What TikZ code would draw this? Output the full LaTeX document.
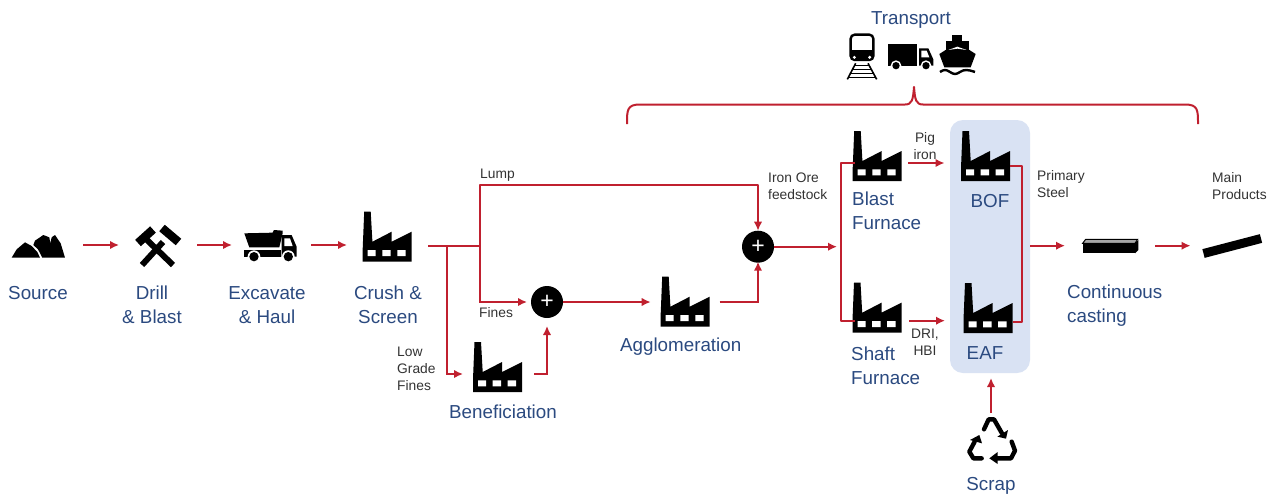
\documentclass[tikz,border=0pt]{standalone}
\usepackage{fontspec}
\setmainfont{Liberation Sans}
\usetikzlibrary{arrows.meta,calc}
\definecolor{lblue}{HTML}{2B4A80}
\definecolor{lred}{HTML}{C0202F}
\definecolor{lgrey}{HTML}{333333}
\definecolor{lbox}{HTML}{D9E2F3}
\tikzset{
  iconbox/.style={inner sep=0pt,outer sep=0pt,minimum height=1pt},
  lab/.style={text=lblue,font=\fontsize{18.8}{24}\selectfont,inner sep=0pt,align=center},
  lableft/.style={lab,align=left,anchor=west},
  small/.style={text=lgrey,font=\fontsize{13.8}{17}\selectfont,inner sep=0pt,align=left,anchor=west},
  smallc/.style={small,align=center,anchor=center},
  arr/.style={draw=lred,line width=2pt,-{Latex[length=9pt,width=8.5pt]}},
  wire/.style={draw=lred,line width=2pt},
  plusnode/.style={circle,fill=black,minimum size=32pt,inner sep=0pt,outer sep=0pt,text=white,font=\fontsize{23}{23}\selectfont},
  factory/.pic={
    \fill[black] (0,51) -- (0,38) -- (1.5,1) -- (8,1) -- (9.7,31) -- (29,21) -- (29,31) -- (49,21) -- (49,51) -- cycle;
    \fill[white] (5,39.3) rectangle (13,45.3) (19.7,39.3) rectangle (28,45.3) (34.7,39.3) rectangle (43,45.3);
  },
  zoomed/.style 2 args={shift={(#1,#2)},x=0.3333pt,y=-0.3333pt}
}
\newcommand{\factoryicon}[4]{% name, left, top, connector level
  \pic at (#2,#3) {factory};
  \node[iconbox,minimum width=49pt] (#1) at ({#2+24.5},#4) {};
}
\begin{document}
\begin{tikzpicture}[x=1pt,y=-1pt]
\useasboundingbox (0,0) rectangle (1273,496);
\fill[white] (0,0) rectangle (1273,496);
% highlighted steelmaking box
\node[fill=lbox,rounded corners=13pt,minimum width=80pt,minimum height=253pt,inner sep=0pt,outer sep=0pt] (steelbox) at (990,246.5) {};

% mountains
\begin{scope}[zoomed={0}{190}]
  \fill (35,203) -- (50,178) -- (75,157) -- (95,168) -- (112,186) -- (120,203) -- cycle;
  \fill (105,152) -- (130,135) -- (148,142) -- (151,160) -- (155,142) -- (165,135) -- (182,160) -- (195,203) -- (127,203) -- (114,178) -- (100,165) -- cycle;
\end{scope}
\node[iconbox,minimum width=53pt] (source) at (38.5,245) {};
% crossed hammers
\begin{scope}[line cap=butt]
  \draw[line width=6pt] (173,265) -- (147,240);
  \draw[line width=6pt] (142,265) -- (163,242);
  \draw[line width=8.5pt] (138,243) -- (153,229.5);
  \draw[line width=8.5pt] (162,228) -- (178.5,242);
\end{scope}
\node[iconbox,minimum width=44pt] (drill) at (158,245) {};
% dump truck
\begin{scope}[zoomed={0}{190}]
  \fill (733,130) -- (818,128) -- (822,120) -- (848,122) -- (848,130) -- (838,172) -- (748,172) -- cycle;
  \fill (733,180) -- (842,180) -- (842,202) -- (733,202) -- cycle;
  \fill (845,135) -- (875,135) -- (890,170) -- (890,200) -- (845,200) -- cycle;
  \fill[white] (853,145) -- (870,145) -- (878,168) -- (853,168) -- cycle;
  \fill[white] (762,200) circle (19) (865,200) circle (19);
  \fill (762,200) circle (14) (865,200) circle (14);
\end{scope}
\node[iconbox,minimum width=53pt] (truck) at (270.5,245) {};

\factoryicon{crush}{362.7}{210.7}{245.7}
\factoryicon{benef}{473}{341}{374}
\factoryicon{agglo}{660.7}{275.7}{302}
\factoryicon{blast}{852.7}{130}{163}
\factoryicon{shaft}{852.5}{281.7}{320.7}
\factoryicon{bof}{961}{130}{163}
\factoryicon{eaf}{963.5}{282}{320.7}

% plus nodes
\node[plusnode] (plusa) at (547,302) {+};
\node[plusnode] (plusb) at (758,246.7) {+};

% continuous-casting bar
\begin{scope}[zoomed={1020}{150}]
  \fill (188,280) rectangle (345,310);
  \draw[line width=1pt,fill=gray!70] (188,280) -- (197,268) -- (353,268) -- (345,280) -- cycle;
  \fill (345,280) -- (355,270) -- (355,300) -- (345,310) -- cycle;
\end{scope}
\node[iconbox,minimum width=56pt] (cast) at (1110,245.7) {};
% product bar
\draw[line width=9pt] (1203.5,253.5) -- (1261,238.5);
\node[iconbox,minimum width=59pt] (product) at (1232,245.7) {};

% recycling symbol
\begin{scope}[zoomed={950}{380},line width=4.4pt,line cap=round,line join=round]
  \draw (102,148) -- (116,118) -- (132,118) -- (156,160);
  \fill (174,150) -- (168,176) -- (142,170) -- cycle;
  \draw (185,185) -- (195,212) -- (183,235) -- (140,235);
  \fill (143,216) -- (118,235) -- (143,252) -- cycle;
  \draw (95,235) -- (70,235) -- (58,215) -- (74,185);
  \fill (60,180) -- (88,165) -- (96,190) -- cycle;
\end{scope}
\node[iconbox,minimum width=48pt,minimum height=44pt] (scrap) at (991,438) {};

% transport icons
\begin{scope}[zoomed={820}{0}]
  % train
  \draw[line width=2.4pt,rounded corners=4pt] (92,180) -- (92,104) -- (160,104) -- (160,180) -- cycle;
  \fill (92,150) -- (160,150) -- (160,180) -- (92,180) -- cycle;
  \fill[white] (103,172) circle (5) (149,172) circle (5);
  \draw[line width=1.6pt] (107,190) -- (82,238) (144,190) -- (170,238);
  \draw[line width=1.4pt] (103,197) -- (148,197) (98,208) -- (153,208) (92,220) -- (159,220) (85,233) -- (166,233);
  % truck
  \fill (205,133) rectangle (292,197);
  \fill (297,145) -- (325,145) -- (340,178) -- (340,197) -- (297,197) -- cycle;
  \fill[white] (304,152) -- (320,152) -- (328,172) -- (304,172) -- cycle;
  \fill[white] (228,197) circle (16) (318,197) circle (16);
  \fill (228,197) circle (11) (318,197) circle (11);
  % ship
  \fill (395,105) rectangle (425,122);
  \fill (378,122) rectangle (447,160);
  \fill (358,162) -- (380,148) -- (445,148) -- (467,162) -- (452,202) -- (373,202) -- cycle;
  \fill[white] (385,150) -- (412,140) -- (440,150) -- (412,146) -- cycle;
  \draw[line width=2.4pt] (360,216) .. controls (372,208) and (378,208) .. (390,216) .. controls (402,224) and (408,224) .. (420,216) .. controls (432,208) and (442,208) .. (465,216);
\end{scope}
\node[iconbox,minimum width=129pt,minimum height=47pt] (transporticons) at (911.5,56.5) {};

% brace
\coordinate (bl) at (627,124);
\coordinate (br) at (1198,124);
\coordinate (bp) at (914,87);
\draw[wire,line join=round] (bl) .. controls (627,110) and (627,104.5) .. (640,104.5) -- (905,104.5) .. controls (912,104.5) and (913,100) .. (bp) .. controls (915,100) and (916,104.5) .. (923,104.5) -- (1185,104.5) .. controls (1198,104.5) and (1198,110) .. (br);

% row of process arrows
\draw[arr,shorten <=18pt,shorten >=17pt] (source.east) -- (drill.west);
\draw[arr,shorten <=17pt,shorten >=12pt] (drill.east) -- (truck.west);
\draw[arr,shorten <=14pt,shorten >=15.7pt] (truck.east) -- (truck.east -| crush.west);

% crush outlet and splits
\coordinate (ja) at (446.5,245.7);
\coordinate (jb) at (480,245.7);
\coordinate (jd) at (758,185);
\draw[wire,shorten <=16.3pt] (crush.east) -- (jb);
\draw[arr,shorten >=10pt] (ja) |- (benef.west);
\draw[arr,shorten >=4pt] (jb) |- (plusa.west);
\draw[arr,line join=round,rounded corners=0pt,shorten >=0pt] (jb) |- (jd) -- (plusb.north);
\draw[arr,shorten >=10pt] (plusa.east) -- (plusa.east -| agglo.west);
\draw[arr,shorten <=10pt,shorten >=-1pt] (agglo.east) -| (plusb.south);
\draw[arr,shorten <=12pt,shorten >=8pt] (benef.east) -| (plusa.south);

% feed to furnaces
\coordinate (je) at (840.5,246.7);
\draw[arr,shorten >=3.5pt] (plusb.east) -- (je);
\draw[wire,line join=round,shorten <=-2pt,shorten >=-2pt] (blast.west) -| (je) |- (shaft.west);
\draw[arr,shorten <=6.5pt,shorten >=16.5pt] (blast.east) -- (bof.west);
\draw[arr,shorten <=7.5pt,shorten >=18.5pt] (shaft.east) -- (eaf.west);

% steel outlet
\coordinate (jf) at (1021.7,165.7);
\coordinate (jg) at (1021.7,321.5);
\draw[wire,line join=round] (bof.east |- jf) -- (jf) -- (jg) -- (eaf.east |- jg);
\draw[arr,shorten >=17pt] (steelbox.east |- cast) -- (cast.west);
\draw[arr,shorten <=17pt,shorten >=12pt] (cast.east) -- (product.west);
\draw[arr,shorten <=3pt,shorten >=5pt] (scrap.north) -- (scrap.north |- steelbox.south);

% process labels
\node[lab] (tsource) at (38,293) {Source};
\node[lab] (tdrill) at (152,305) {Drill\\\& Blast};
\node[lab] (texc) at (267,305) {Excavate\\\& Haul};
\node[lab] (tcrush) at (388,305) {Crush \&\\Screen};
\node[lab] (tben) at (503,412) {Beneficiation};
\node[lab] (tagg) at (680.7,346.5) {Agglomeration};
\node[lableft] (tblast) at (852,211) {Blast\\Furnace};
\node[lableft] (tshaft) at (851,366) {Shaft\\Furnace};
\node[lab] (tbof) at (990,201) {BOF};
\node[lab] (teaf) at (985,353) {EAF};
\node[lableft] (tcast) at (1067,305.5) {Continuous\\casting};
\node[lab] (tscrap) at (991,486) {Scrap};
\node[lab] (ttransport) at (911,20) {Transport};

% small labels
\node[small] (slump) at (480,175.5) {Lump};
\node[small] (sfines) at (479,312.5) {Fines};
\node[small] (slow) at (397,369) {Low\\Grade\\Fines};
\node[small] (sore) at (768,186) {Iron Ore\\feedstock};
\node[smallc] (spig) at (925,146) {Pig\\iron};
\node[smallc] (sdri) at (925,342) {DRI,\\HBI};
\node[small] (sprim) at (1037,184.5) {Primary\\Steel};
\node[small] (smain) at (1212,186) {Main\\Products};
\end{tikzpicture}
\end{document}
